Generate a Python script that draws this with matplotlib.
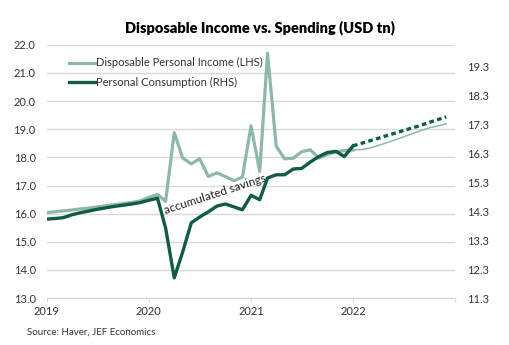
import pandas as pd
import matplotlib.pyplot as plt
import matplotlib.dates as mdates

plt.rcParams['font.family'] = ['Lato', 'DejaVu Sans']

# monthly, Jan 2019 - Jan 2022
income = [16.04, 16.07, 16.10, 16.13, 16.17, 16.20, 16.24, 16.28, 16.32, 16.36, 16.40, 16.45,
          16.58, 16.68, 16.44, 18.88, 17.98, 17.77, 17.95, 17.32, 17.45, 17.32, 17.17, 17.30,
          19.12, 17.50, 21.70, 18.40, 17.95, 17.97, 18.20, 18.27, 17.98, 18.10, 18.20, 18.24,
          18.26]
consumption = [14.03, 14.05, 14.08, 14.18, 14.25, 14.31, 14.37, 14.42, 14.47, 14.51, 14.55, 14.60,
               14.68, 14.75, 13.72, 12.00, 12.89, 13.90, 14.10, 14.28, 14.48, 14.55, 14.45, 14.35,
               14.85, 14.70, 15.45, 15.56, 15.56, 15.76, 15.78, 16.00, 16.19, 16.33, 16.37, 16.19,
               16.56]
# forecast, Jan 2022 - Dec 2022
income_fc = [18.26, 18.28, 18.33, 18.42, 18.52, 18.62, 18.73, 18.84, 18.95, 19.05, 19.12, 19.19]
consumption_fc = [16.56, 16.65, 16.73, 16.82, 16.91, 17.00, 17.09, 17.18, 17.27, 17.37, 17.47, 17.56]
years = ['2019', '2020', '2021', '2022', '']

months = pd.date_range('2019-01-01', periods=len(income), freq='MS')
months_fc = pd.date_range('2022-01-01', periods=len(income_fc), freq='MS')

light = '#8DB8A5'
dark = '#105C40'

fig = plt.figure(figsize=(5.1, 3.45), dpi=100)
ax = fig.add_axes([0.092, 0.136, 0.8, 0.734])
ax2 = ax.twinx()

ax.plot(months, income, color=light, lw=2.3, label='Disposable Personal Income (LHS)')
ax.plot(months_fc, income_fc, color=light, lw=1.1)
ax2.plot(months, consumption, color=dark, lw=2.4)
ax2.plot(months_fc, consumption_fc, color=dark, lw=2.4, ls=(0, (1.4, 1.0)))
ax.plot([], [], color=dark, lw=2.4, label='Personal Consumption (RHS)')

ax.set_ylim(13, 22)
ax.set_yticks([13, 14, 15, 16, 17, 18, 19, 20, 21, 22])
ax.set_yticklabels([f'{v:.1f}' for v in ax.get_yticks()])
ax2.set_ylim(11.3, 20.05)
ax2.set_yticks([11.3, 12.3, 13.3, 14.3, 15.3, 16.3, 17.3, 18.3, 19.3])
ax2.set_yticklabels([f'{v:.1f}' for v in ax2.get_yticks()])

ax.set_xlim(pd.Timestamp('2019-01-01'), pd.Timestamp('2023-01-01'))
ax.set_xticks(pd.to_datetime([y + '-01-01' if y else '2023-01-01' for y in years]))
ax.set_xticklabels(years)

ax.grid(axis='y', color='#D9D9D9', lw=1)
ax.set_axisbelow(True)
for a in (ax, ax2):
    for s in ('top', 'left', 'right'):
        a.spines[s].set_visible(False)
    a.spines['bottom'].set_color('#D9D9D9')
ax.tick_params(axis='y', length=0, labelsize=8, colors='#333333', pad=8)
ax2.tick_params(axis='y', length=0, labelsize=8, colors='#333333', pad=9)
ax.tick_params(axis='x', length=3, color='#D9D9D9', labelsize=8, labelcolor='#333333', pad=3)

ax.legend(loc='upper left', bbox_to_anchor=(0.03, 0.99), frameon=False, fontsize=8,
          handlelength=2.3, handletextpad=0.1, labelspacing=0.75, labelcolor='#333333')

ax.text(pd.Timestamp('2020-08-25'), 16.68, 'accumulated savings', rotation=18, fontsize=8.5,
        ha='center', va='center', color='#222222')

fig.text(0.51, 0.905, 'Disposable Income vs. Spending (USD tn)', ha='center', fontsize=10.5, fontweight='heavy')
fig.text(0.053, 0.03, 'Source: Haver, JEF Economics', fontsize=7, color='#333333')

fig.savefig('out.png', dpi=100)
